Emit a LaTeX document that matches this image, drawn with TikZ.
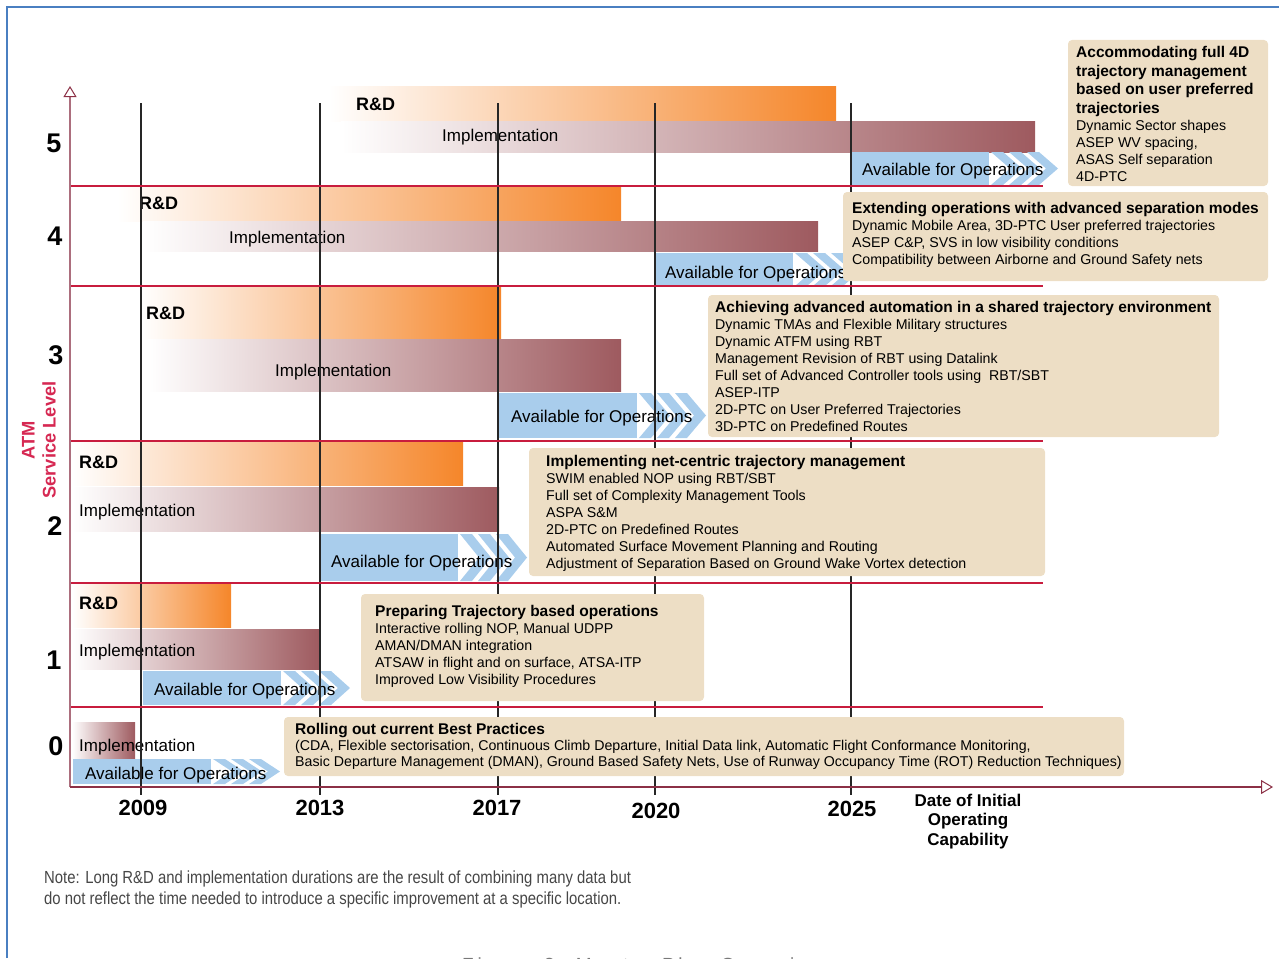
\documentclass[tikz,border=0pt]{standalone}
\usepackage{fontspec}
\setmainfont{Liberation Sans}
\newfontfamily\condfont[FakeStretch=0.85]{Liberation Sans}
\newfontfamily\capfont[LetterSpace=20]{Liberation Sans}
\usetikzlibrary{arrows.meta}
\definecolor{rdorange}{RGB}{245,134,42}
\definecolor{immaroon}{RGB}{158,90,95}
\definecolor{avblue}{RGB}{169,205,236}
\definecolor{tanc}{RGB}{237,222,197}
\definecolor{sepred}{RGB}{200,28,62}
\definecolor{yaxc}{RGB}{172,110,125}
\definecolor{xaxc}{RGB}{140,48,70}
\definecolor{crim}{RGB}{214,40,82}
\definecolor{frameblue}{RGB}{74,127,193}
\definecolor{notegray}{RGB}{70,70,70}
\definecolor{capgray}{RGB}{120,120,120}
\newcommand{\tfont}{\fontsize{15.5}{18.7}\selectfont\bfseries}
\newcommand{\bfont}{\fontsize{14.2}{17}\selectfont\mdseries}
\newcommand{\rdbar}[4]{\shade[left color=white,right color=rdorange] (#1,#2) rectangle (#3,#4);}
\newcommand{\imbar}[4]{\shade[left color=white,right color=immaroon] (#1,#2) rectangle (#3,#4);}
\newcommand{\availbar}[3]{%
  \pgfmathsetmacro\xa{#1+138}%
  \pgfmathsetmacro\ym{(#2+#3)/2}%
  \fill[avblue] (#1,#2) rectangle (\xa,#3);
  \foreach \k in {0,1,2}{%
    \pgfmathsetmacro\ca{\xa+2+18*\k}%
    \pgfmathsetmacro\cb{\ca+12}%
    \fill[avblue] (\ca,#2) -- (\cb,#2) -- (\cb+19,\ym) -- (\cb,#3) -- (\ca,#3) -- (\ca+19,\ym) -- cycle;
  }}
\begin{document}
\begin{tikzpicture}[x=1pt,y=-1pt,
  lbl/.style={anchor=base west,inner sep=0pt,font=\fontsize{17}{20}\selectfont},
  rdlbl/.style={anchor=base west,inner sep=0pt,font=\fontsize{18}{21}\selectfont\bfseries},
  lvl/.style={inner sep=0pt,font=\fontsize{27}{30}\selectfont\bfseries},
  yr/.style={inner sep=0pt,font=\fontsize{22}{26}\selectfont\bfseries},
  boxfill/.style={fill=tanc,rounded corners=4pt},
  boxtxt/.style={anchor=base west,inner sep=0pt},
  sepline/.style={draw=sepred,line width=2pt},
  yrline/.style={draw=black!85,line width=1.3pt}]
\useasboundingbox (0,0) rectangle (1287,958);
% frame
\draw[frameblue,line width=2pt] (7,958) -- (7,7) -- (1279,7);
% ---- bars ----
% level 5
\rdbar{328}{86}{836}{121}
\imbar{341}{121}{1035}{152}
\availbar{851}{152}{185}
% level 4
\rdbar{117}{186}{621}{221}
\imbar{143}{221}{818}{251}
\availbar{655}{253}{286}
% level 3
\rdbar{140}{286}{501}{339}
\imbar{148}{339}{621}{391}
\availbar{499}{393}{438}
% level 2
\rdbar{72}{442}{463}{485}
\imbar{72}{487}{499}{531}
\availbar{320}{534}{581}
% level 1
\rdbar{72}{584}{231}{627}
\imbar{72}{629}{320}{669}
\availbar{143}{671}{705}
% level 0
\imbar{72}{722}{135}{758}
\availbar{73}{759}{784}
% ---- bar labels ----
\node[rdlbl] (rd5) at (356,110.5) {R\&D};
\node[lbl] (im5) at (442,141) {Implementation};
\node[lbl] (av5) at (862,175) {Available for Operations};
\node[rdlbl] (rd4) at (139,209.5) {R\&D};
\node[lbl] (im4) at (229,243) {Implementation};
\node[lbl] (av4) at (665,278) {Available for Operations};
\node[rdlbl] (rd3) at (146,319.5) {R\&D};
\node[lbl] (im3) at (275,376) {Implementation};
\node[lbl] (av3) at (511,422) {Available for Operations};
\node[rdlbl] (rd2) at (79,468.5) {R\&D};
\node[lbl] (im2) at (79,516) {Implementation};
\node[lbl] (av2) at (331,567) {Available for Operations};
\node[rdlbl] (rd1) at (79,609.5) {R\&D};
\node[lbl] (im1) at (79,656) {Implementation};
\node[lbl] (av1) at (154,695) {Available for Operations};
\node[lbl] (im0) at (79,751) {Implementation};
\node[lbl] (av0) at (85,779) {Available for Operations};
% ---- year lines ----
\foreach \x in {141,320,498,655,851}{\draw[yrline] (\x,103) -- (\x,795);}
% ---- level separators ----
\foreach \y in {186,286,441,583,707}{\draw[sepline] (70,\y) -- (1043,\y);}
% ---- boxes ----
\fill[boxfill] (1068,40) rectangle (1268,186);
\node[boxtxt] (b5) at (1076,57.5) {\parbox[t]{190pt}{\raggedright\tfont Accommodating full 4D\\trajectory management\\based on user preferred\\trajectories\par\bfont Dynamic Sector shapes\\ASEP WV spacing,\\ASAS Self separation\\4D-PTC}};
\fill[boxfill] (843,192) rectangle (1268,281);
\node[boxtxt] (b4) at (852,213.5) {\parbox[t]{415pt}{\raggedright\tfont Extending operations with advanced separation modes\par\bfont Dynamic Mobile Area, 3D-PTC User preferred trajectories\\ASEP C\&P, SVS in low visibility conditions\\Compatibility between Airborne and Ground Safety nets}};
\fill[boxfill] (708,295) rectangle (1219,437);
\node[boxtxt] (b3) at (715,312.5) {\parbox[t]{500pt}{\raggedright\tfont Achieving advanced automation in a shared trajectory environment\par\bfont Dynamic TMAs and Flexible Military structures\\Dynamic ATFM using RBT\\Management Revision of RBT using Datalink\\Full set of Advanced Controller tools using\ \ RBT/SBT\\ASEP-ITP\\2D-PTC on User Preferred Trajectories\\3D-PTC on Predefined Routes}};
\fill[boxfill] (529,448) rectangle (1045,576);
\node[boxtxt] (b2) at (546,466.5) {\parbox[t]{495pt}{\raggedright\tfont Implementing net-centric trajectory management\par\bfont SWIM enabled NOP using RBT/SBT\\Full set of Complexity Management Tools\\ASPA S\&M\\2D-PTC on Predefined Routes\\Automated Surface Movement Planning and Routing\\Adjustment of Separation Based on Ground Wake Vortex detection}};
\fill[boxfill] (361,594) rectangle (704,701);
\node[boxtxt] (b1) at (375,616.5) {\parbox[t]{325pt}{\raggedright\tfont Preparing Trajectory based operations\par\bfont Interactive rolling NOP, Manual UDPP\\AMAN/DMAN integration\\ATSAW in flight and on surface, ATSA-ITP\\Improved Low Visibility Procedures}};
\fill[boxfill] (284,717) rectangle (1124,776);
\node[boxtxt] (b0) at (295,734.5) {\parbox[t]{830pt}{\raggedright\tfont Rolling out current Best Practices\par\fontsize{14.2}{16}\selectfont\mdseries (CDA, Flexible sectorisation, Continuous Climb Departure, Initial Data link, Automatic Flight Conformance Monitoring,\\Basic Departure Management (DMAN), Ground Based Safety Nets, Use of Runway Occupancy Time (ROT) Reduction Techniques)}};
% ---- axes ----
\coordinate (origin) at (70,787);
\coordinate (ytop) at (70,86);
\coordinate (xend) at (1273,787);
\draw[yaxc,line width=2.5pt,-{Triangle[length=11pt,width=13pt,line width=1pt,fill=white,color=xaxc]}] (origin) -- (ytop);
\draw[xaxc,line width=2.5pt,-{Triangle[length=12pt,width=14pt,line width=1pt,fill=white]}] (origin) -- (xend);
% ---- level numbers ----
\node[lvl] (l5) at (54,143) {5};
\node[lvl] (l4) at (55,236) {4};
\node[lvl] (l3) at (56,355) {3};
\node[lvl] (l2) at (55,526) {2};
\node[lvl] (l1) at (54,660) {1};
\node[lvl] (l0) at (56,746) {0};
\node[rotate=90,align=center,inner sep=0pt,text=crim,font=\fontsize{18.3}{21}\selectfont\bfseries] (ylab) at (39,440) {ATM\\Service Level};
% ---- years ----
\node[yr] (y2009) at (143,808) {2009};
\node[yr] (y2013) at (320,808) {2013};
\node[yr] (y2017) at (497,808) {2017};
\node[yr] (y2020) at (656,811) {2020};
\node[yr] (y2025) at (852,809) {2025};
\node[anchor=base,inner sep=0pt] (doc) at (968,806) {\parbox[t]{160pt}{\centering\fontsize{17}{19.5}\selectfont\bfseries Date of Initial\\Operating\\Capability}};
% ---- note ----
\node[anchor=base west,inner sep=0pt,text=notegray] (note) at (44,883) {\parbox[t]{700pt}{\raggedright\condfont\fontsize{17.5}{21}\selectfont Note: Long R\&D and implementation durations are the result of combining many data but\\do not reflect the time needed to introduce a specific improvement at a specific location.}};
\begin{scope}
\clip (0,0) rectangle (1287,958);
\node[anchor=base west,inner sep=0pt,text=capgray] (cap) at (462,971) {\capfont\fontsize{19}{22}\selectfont Figure 3: Master Plan Overview};
\end{scope}
\end{tikzpicture}
\end{document}
